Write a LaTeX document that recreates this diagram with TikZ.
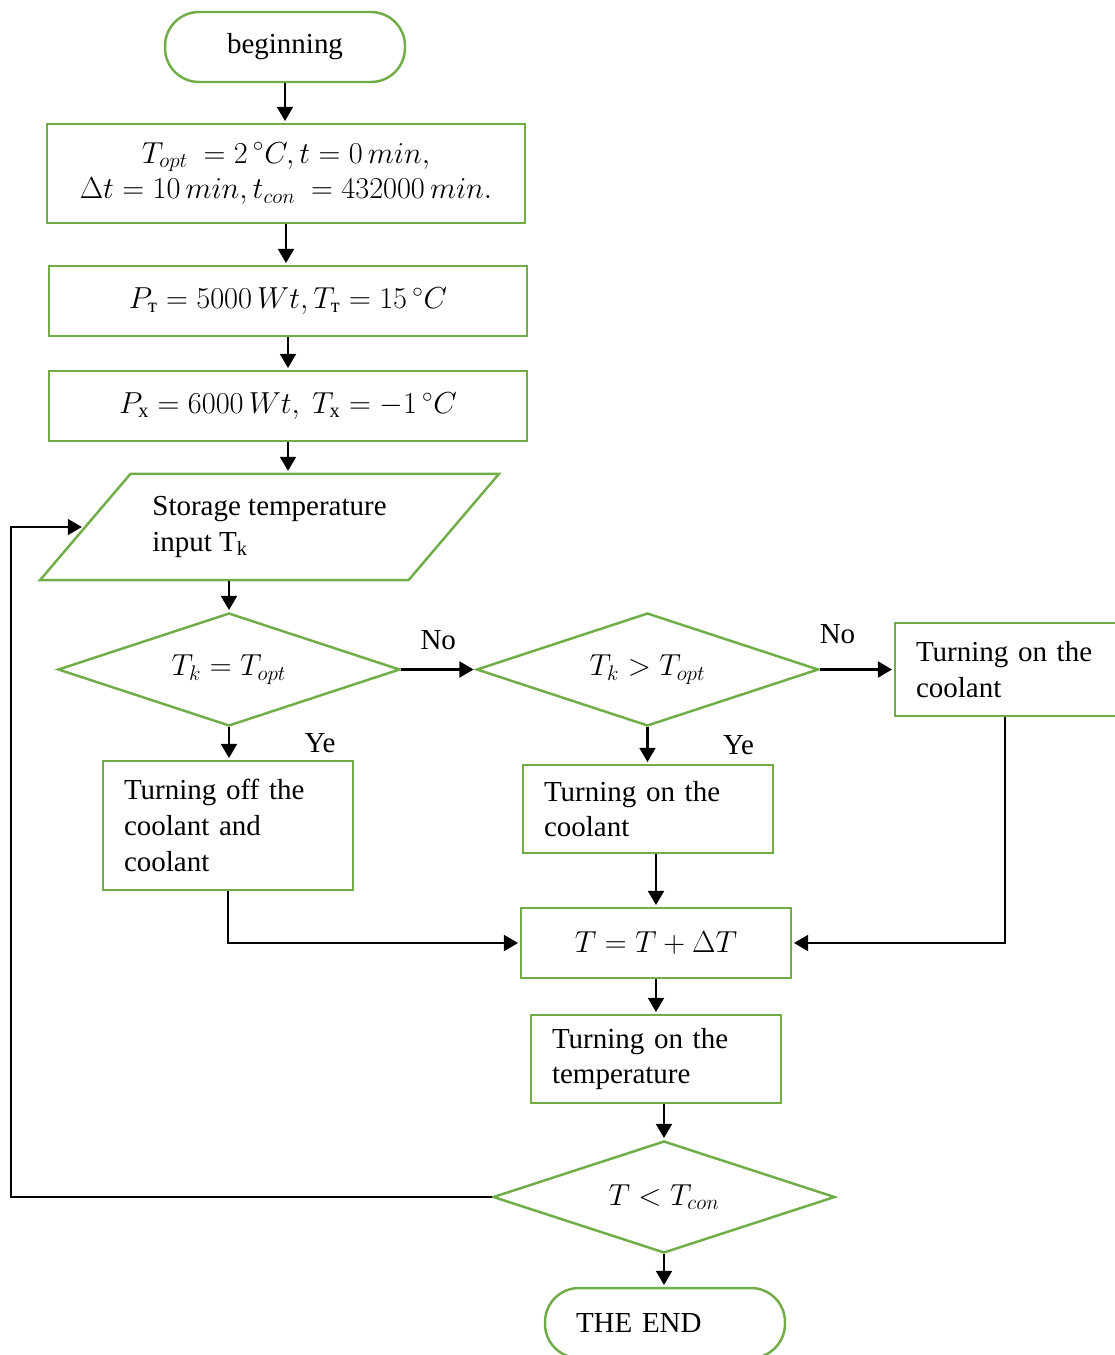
\documentclass[tikz,border=0pt]{standalone}
\usepackage{amsmath}
\usepackage{fontspec}
\setmainfont{Liberation Serif}
\usepackage{xcolor}
\usetikzlibrary{shapes.geometric, arrows.meta}
\definecolor{flowgreen}{RGB}{112,173,71}
\tikzset{
  base/.style={draw=flowgreen, line width=1.4pt, inner sep=0pt},
  proc/.style={base, rectangle, minimum width=5cm, minimum height=1.4cm, align=center},
  txtbox/.style={base, rectangle, minimum width=5cm, text width=4.16cm, align=left},
  term/.style={base, rectangle, rounded corners=0.68cm, minimum width=4.8cm, minimum height=1.4cm},
  dec/.style={base, diamond, aspect=3, minimum width=6.84cm, minimum height=2.26cm},
  inout/.style={base, trapezium, trapezium left angle=49.6, trapezium right angle=130.4,
    trapezium stretches body=true, minimum width=9.18cm, inner ysep=0.45cm, align=left},
  arr/.style={-{Triangle[length=8pt,width=9pt]}, line width=1.3pt, shorten >=1pt},
}
\begin{document}
\begin{tikzpicture}[x=0.02cm, y=-0.02cm, font=\fontsize{16.5}{20.4}\selectfont]
  \useasboundingbox (0,0) rectangle (1115,1355);
  \node[term, align=center] (beg) at (285,47) {beginning};
  \node[proc, minimum width=9.56cm, minimum height=1.98cm] (init) at (286,173.5)
    {$T_{opt}\ = 2\,{}^{\circ}C, t = 0\,min,$\\$\Delta t = 10\,min, t_{con}\ = 432000\,min.$};
  \node[proc, minimum width=9.56cm] (heat) at (288,301)
    {$P_{\text{т}} = 5000\,Wt,T_{\text{т}} = 15\,{}^{\circ}C$};
  \node[proc, minimum width=9.56cm] (cool) at (288,406)
    {$P_{\text{х}} = 6000\,Wt,\ T_{\text{х}} = -1\,{}^{\circ}C$};
  \node[inout] (inp) at (269.5,527) {Storage temperature\\input T\textsubscript{k}};
  \node[dec] (eq) at (229,669.5) {$T_k = T_{opt}$};
  \node[dec] (gt) at (647.5,669.5) {$T_k > T_{opt}$};
  \node[txtbox, minimum height=1.86cm] (onR) at (1020,669.5) {Turning on the\\coolant};
  \node[txtbox, minimum height=2.58cm] (off) at (228,825.5) {Turning off the\\coolant and\\coolant};
  \node[txtbox, minimum height=1.76cm] (on) at (648,809) {Turning on the\\coolant};
  \node[proc, minimum width=5.4cm] (sum) at (656,943) {$T = T + \Delta T$};
  \node[txtbox, minimum height=1.76cm] (temp) at (656,1059) {Turning on the\\temperature};
  \node[dec, minimum height=2.24cm] (less) at (664,1197) {$T < T_{con}$};
  \node[term, text width=3.56cm, align=left] (fin) at (665,1323) {THE END};
  \coordinate (back) at (11,1197);

  % main line
  \draw[arr] (beg.south) -- (beg.south |- init.north);
  \draw[arr] (init.south) -- (init.south |- heat.north);
  \draw[arr] (heat.south) -- (heat.south |- cool.north);
  \draw[arr] (cool.south) -- (cool.south |- inp.north);
  \draw[arr] (eq.north |- inp.south) -- (eq.north);
  \draw[arr] (eq.east) -- node[midway, yshift=0.58cm] {No} (gt.west);
  \draw[arr] (gt.east) -- node[pos=0.24, yshift=0.7cm] {No} (onR.west);
  \draw[arr] (eq.south) -- node[midway, xshift=1.82cm] {Ye} (eq.south |- off.north);
  \draw[arr] (gt.south) -- node[midway, xshift=1.82cm] {Ye} (gt.south |- on.north);
  \draw[arr] (sum.north |- on.south) -- (sum.north);
  \draw[arr] (off.south) |- (sum.west);
  \draw[arr] ([xshift=-0.3cm]onR.south) |- (sum.east);
  \draw[arr] (sum.south) -- (sum.south |- temp.north);
  \draw[arr] (less.north |- temp.south) -- (less.north);
  \draw[arr] (less.south) -- (less.south |- fin.north);
  % loop back
  \draw[arr] (less.west) -- (back) |- (inp.west);
\end{tikzpicture}
\end{document}
